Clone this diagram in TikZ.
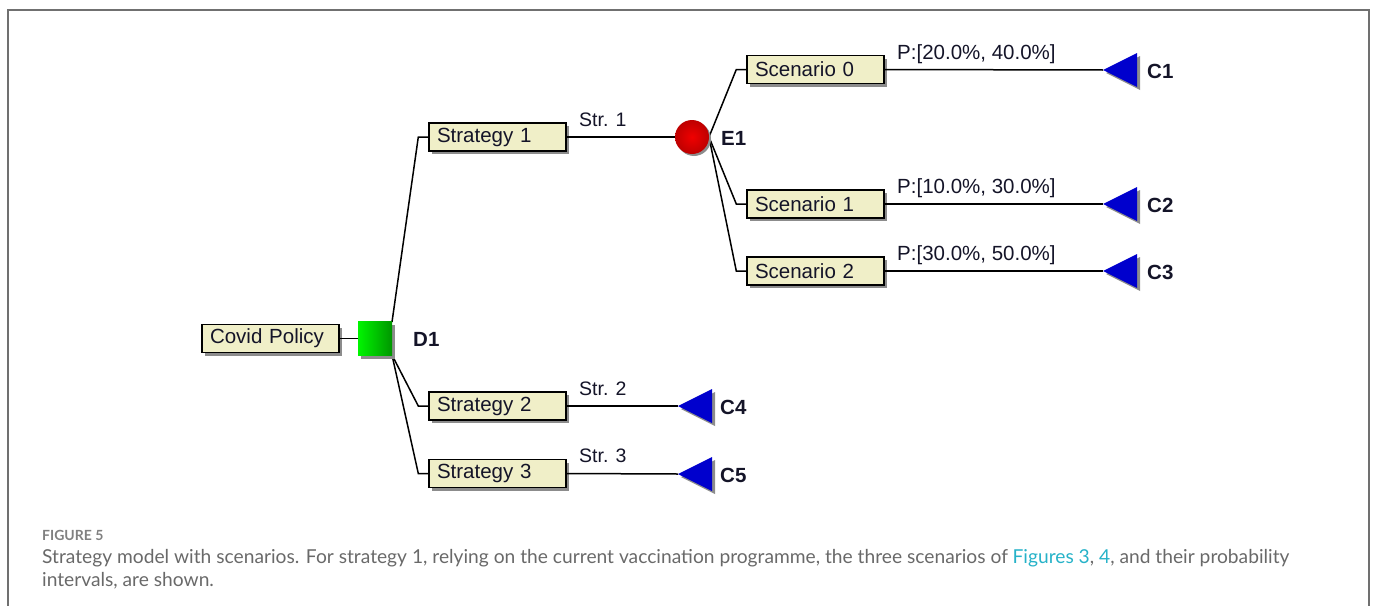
\documentclass[tikz,border=0pt]{standalone}
\usepackage{fontspec}
\setmainfont{Liberation Sans}
\newfontfamily\capfont{Lato}
\usetikzlibrary{shadows}
\definecolor{boxfill}{RGB}{240,239,200}
\definecolor{framegray}{RGB}{112,112,112}
\definecolor{capgray}{RGB}{105,105,105}
\definecolor{linkcyan}{RGB}{38,178,200}
\definecolor{greenA}{RGB}{0,245,0}
\definecolor{greenB}{RGB}{0,150,0}
\definecolor{redA}{RGB}{240,0,0}
\definecolor{redB}{RGB}{190,0,0}
\definecolor{triblue}{RGB}{0,0,205}
\definecolor{shadowgray}{RGB}{140,140,140}
\definecolor{inkcol}{RGB}{20,20,40}
\begin{document}
\begin{tikzpicture}[x=1pt,y=-1pt,
  every node/.style={inner sep=0pt},
  treebox/.style={draw=black, line width=1.4pt, fill=boxfill, minimum height=28pt,
    text width=121pt, inner xsep=8pt, align=left, text=inkcol, font=\fontsize{20.5}{23}\selectfont,
    drop shadow={shadow xshift=3pt, shadow yshift=-3pt, fill=shadowgray, opacity=1}},
  dnode/.style={rectangle, minimum size=34pt, left color=greenA, right color=greenB,
    drop shadow={shadow xshift=3pt, shadow yshift=-3pt, fill=shadowgray, opacity=1}},
  enode/.style={circle, minimum size=34pt, inner color=redA, outer color=redB,
    drop shadow={shadow xshift=2pt, shadow yshift=-2pt, fill=shadowgray, opacity=1}},
  tri/.style={fill=triblue},
  trishadow/.style={fill=shadowgray},
  conn/.style={draw=black, line width=1.5pt},
  nlabel/.style={anchor=west, text=inkcol, font=\bfseries\fontsize{20.5}{24}\selectfont},
  elabel/.style={anchor=base west, text=inkcol, font=\fontsize{19.5}{22}\selectfont},
  plabel/.style={anchor=base west, text=inkcol, font=\fontsize{20.5}{22}\selectfont},
  capsmall/.style={anchor=base west, font=\capfont\bfseries\fontsize{14}{16}\selectfont, text=capgray!85},
  captext/.style={anchor=base west, font=\capfont\fontsize{19.2}{22}\selectfont, text=capgray}
]
\useasboundingbox (0,0) rectangle (1375,605);
% frame
\draw[framegray, line width=2pt] (8,607) -- (8,9.5) -- (1369,9.5) -- (1369,607);

% terminal coordinates (triangle tips)
\coordinate (c1) at (1103,70);
\coordinate (c2) at (1103,204);
\coordinate (c3) at (1103,271);
\coordinate (c4) at (678,406);
\coordinate (c5) at (678,474);

% nodes
\node[treebox] (root) at (270.5,338.5) {Covid Policy};
\node[treebox] (s1) at (497.5,137) {Strategy 1};
\node[treebox] (s2) at (497.5,406) {Strategy 2};
\node[treebox] (s3) at (497.5,473.5) {Strategy 3};
\node[treebox] (sc0) at (815.5,69.5) {Scenario 0};
\node[treebox] (sc1) at (815.5,204) {Scenario 1};
\node[treebox] (sc2) at (815.5,271) {Scenario 2};

% connectors
\draw[conn] (root.east) -- (358,338.5);
\draw[conn] (392,322) -- ([xshift=-10pt]s1.west) -- (s1.west);
\draw[conn] (392,355) -- ([xshift=-10pt]s2.west) -- (s2.west);
\draw[conn] (392,355) -- ([xshift=-10pt]s3.west) -- (s3.west);
\draw[conn] (s1.east) -- (692,137);
\draw[conn] (s2.east) -- (c4);
\draw[conn] (s3.east) -- (c5);
\draw[conn] (709,137) -- ([xshift=-10pt]sc0.west) -- (sc0.west);
\draw[conn] (709,137) -- ([xshift=-10pt]sc1.west) -- (sc1.west);
\draw[conn] (709,137) -- ([xshift=-10pt]sc2.west) -- (sc2.west);
\draw[conn] (sc0.east) -- (c1);
\draw[conn] (sc1.east) -- (c2);
\draw[conn] (sc2.east) -- (c3);

% decision and event nodes
\node[dnode] (d1) at (375,338.5) {};
\node[enode] (e1) at (692,137) {};

% consequence triangles
\foreach \c in {c1,c2,c3,c4,c5}{
  \fill[trishadow] ([xshift=3pt,yshift=-3pt]\c) -- ++(34,-17) -- ++(0,34) -- cycle;
  \fill[tri] (\c) -- ++(34,-17) -- ++(0,34) -- cycle;
}

% node labels
\node[nlabel] (d1l) at (413,339) {D1};
\node[nlabel] (e1l) at (721,138) {E1};
\node[nlabel] (c1l) at (1147,71) {C1};
\node[nlabel] (c2l) at (1147,205) {C2};
\node[nlabel] (c3l) at (1147,272) {C3};
\node[nlabel] (c4l) at (720,407) {C4};
\node[nlabel] (c5l) at (720,475) {C5};

% edge labels
\node[elabel] (l1) at (579,126) {Str. 1};
\node[elabel] (l2) at (579,395) {Str. 2};
\node[elabel] (l3) at (579,462.5) {Str. 3};
\node[plabel] (p0) at (897,59) {P:[20.0\%, 40.0\%]};
\node[plabel] (p1) at (897,193.5) {P:[10.0\%, 30.0\%]};
\node[plabel] (p2) at (897,260.5) {P:[30.0\%, 50.0\%]};

% caption
\node[capsmall] (figno) at (42,540) {FIGURE 5};
\node[captext] (cap1) at (42,563) {Strategy model with scenarios. For strategy 1, relying on the current vaccination programme, the three scenarios of \textcolor{linkcyan}{Figures 3}, \textcolor{linkcyan}{4}, and their probability};
\node[captext] (cap2) at (42,586) {intervals, are shown.};
\end{tikzpicture}
\end{document}
